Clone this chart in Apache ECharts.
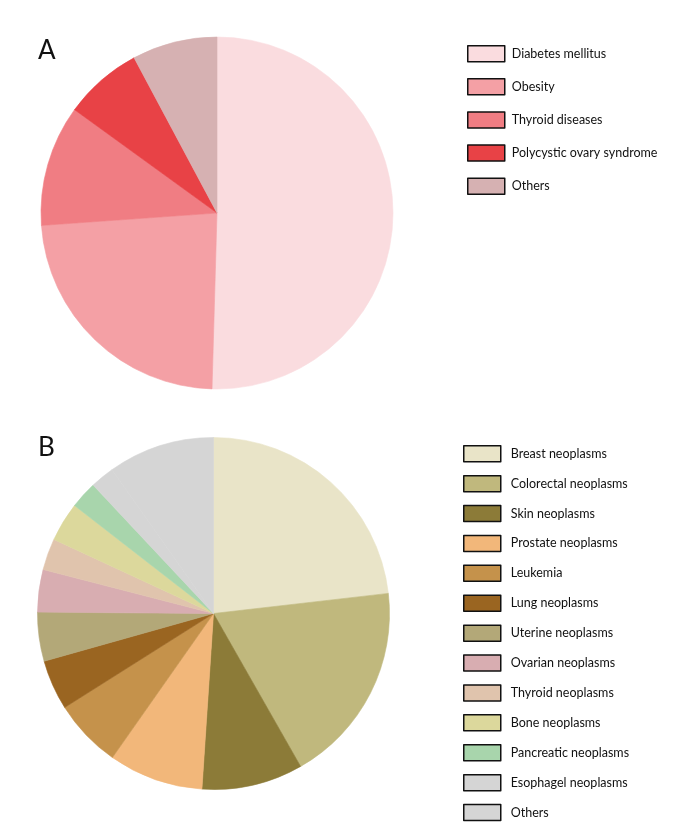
<!DOCTYPE html>
<html>
<head>
<meta charset="utf-8" />
<title>Disease distribution</title>
<script src="https://cdn.jsdelivr.net/npm/echarts@6/dist/echarts.min.js"></script>
<style>
html, body { margin: 0; padding: 0; background: #ffffff; }
#chart { width: 675px; height: 840px; }
</style>
</head>
<body>
<div id="chart"></div>
<script type="text/javascript">
// panel A: endocrine / metabolic
var namesA = ['Diabetes mellitus', 'Obesity', 'Thyroid diseases', 'Polycystic ovary syndrome', 'Others'];
var valuesA = [50.4, 23.4, 11.1, 7.2, 7.8];
var colorsA = ['#fadcdf', '#f4a0a5', '#f07d83', '#e84246', '#d6b1b2'];

// panel B: neoplasms
var namesB = ['Breast neoplasms', 'Colorectal neoplasms', 'Skin neoplasms', 'Prostate neoplasms',
	'Leukemia', 'Lung neoplasms', 'Uterine neoplasms', 'Ovarian neoplasms', 'Thyroid neoplasms',
	'Bone neoplasms', 'Pancreatic neoplasms', 'Esophagel neoplasms', 'Others'];
var valuesB = [23.2, 18.6, 9.3, 8.7, 6.3, 4.6, 4.5, 3.9, 2.9, 3.6, 2.5, 2.2, 9.8];
var colorsB = ['#e9e4c8', '#c0b87d', '#8c7b38', '#f2b77a', '#c5924b', '#9a6521', '#b3a878',
	'#d8adb1', '#e0c4ad', '#dcd89c', '#a8d5ac', '#d5d5d5', '#d5d5d5'];

function toData(names, values, colors) {
	return names.map(function (n, i) {
		// thin stroke in the slice's own colour hides the antialias seams
		return { name: n, value: values[i], itemStyle: { color: colors[i], borderColor: colors[i], borderWidth: 0.6 } };
	});
}

var font = 'Lato, "Open Sans", sans-serif';

function pieSeries(names, values, colors, center) {
	return {
		type: 'pie',
		center: center,
		radius: 176,
		startAngle: 90,
		clockwise: true,
		label: { show: false },
		labelLine: { show: false },
		emphasis: { disabled: true },
		silent: true,
		data: toData(names, values, colors)
	};
}

function legendFor(names, colors, left, top, gap, textPad) {
	return {
		orient: 'vertical',
		left: left,
		top: top,
		padding: 0,
		itemWidth: 37,
		itemHeight: 16,
		itemGap: gap,
		icon: 'rect',
		selectedMode: false,
		data: names.map(function (n, i) {
			return { name: n, itemStyle: { color: colors[i], borderColor: '#111111', borderWidth: 1.5 } };
		}),
		textStyle: { fontFamily: font, fontSize: 12.5, color: '#111111', lineHeight: 16, padding: [0, 0, 0, textPad] }
	};
}

var chart = echarts.init(document.getElementById('chart'), null, { renderer: 'canvas' });
chart.setOption({
	animation: false,
	backgroundColor: '#ffffff',
	title: [
		{ text: 'A', left: 33, top: 33, textStyle: { fontFamily: font, fontSize: 26, fontWeight: 'normal', color: '#111111' } },
		{ text: 'B', left: 33, top: 430, textStyle: { fontFamily: font, fontSize: 26, fontWeight: 'normal', color: '#111111' } }
	],
	legend: [
		legendFor(namesA, colorsA, 467, 45, 15.6, 2),
		legendFor(namesB, colorsB, 463, 445, 12.4, 5)
	],
	series: [
		pieSeries(namesA, valuesA, colorsA, [217, 213]),
		pieSeries(namesB, valuesB, colorsB, [213.5, 613.5])
	]
});
</script>
</body>
</html>
